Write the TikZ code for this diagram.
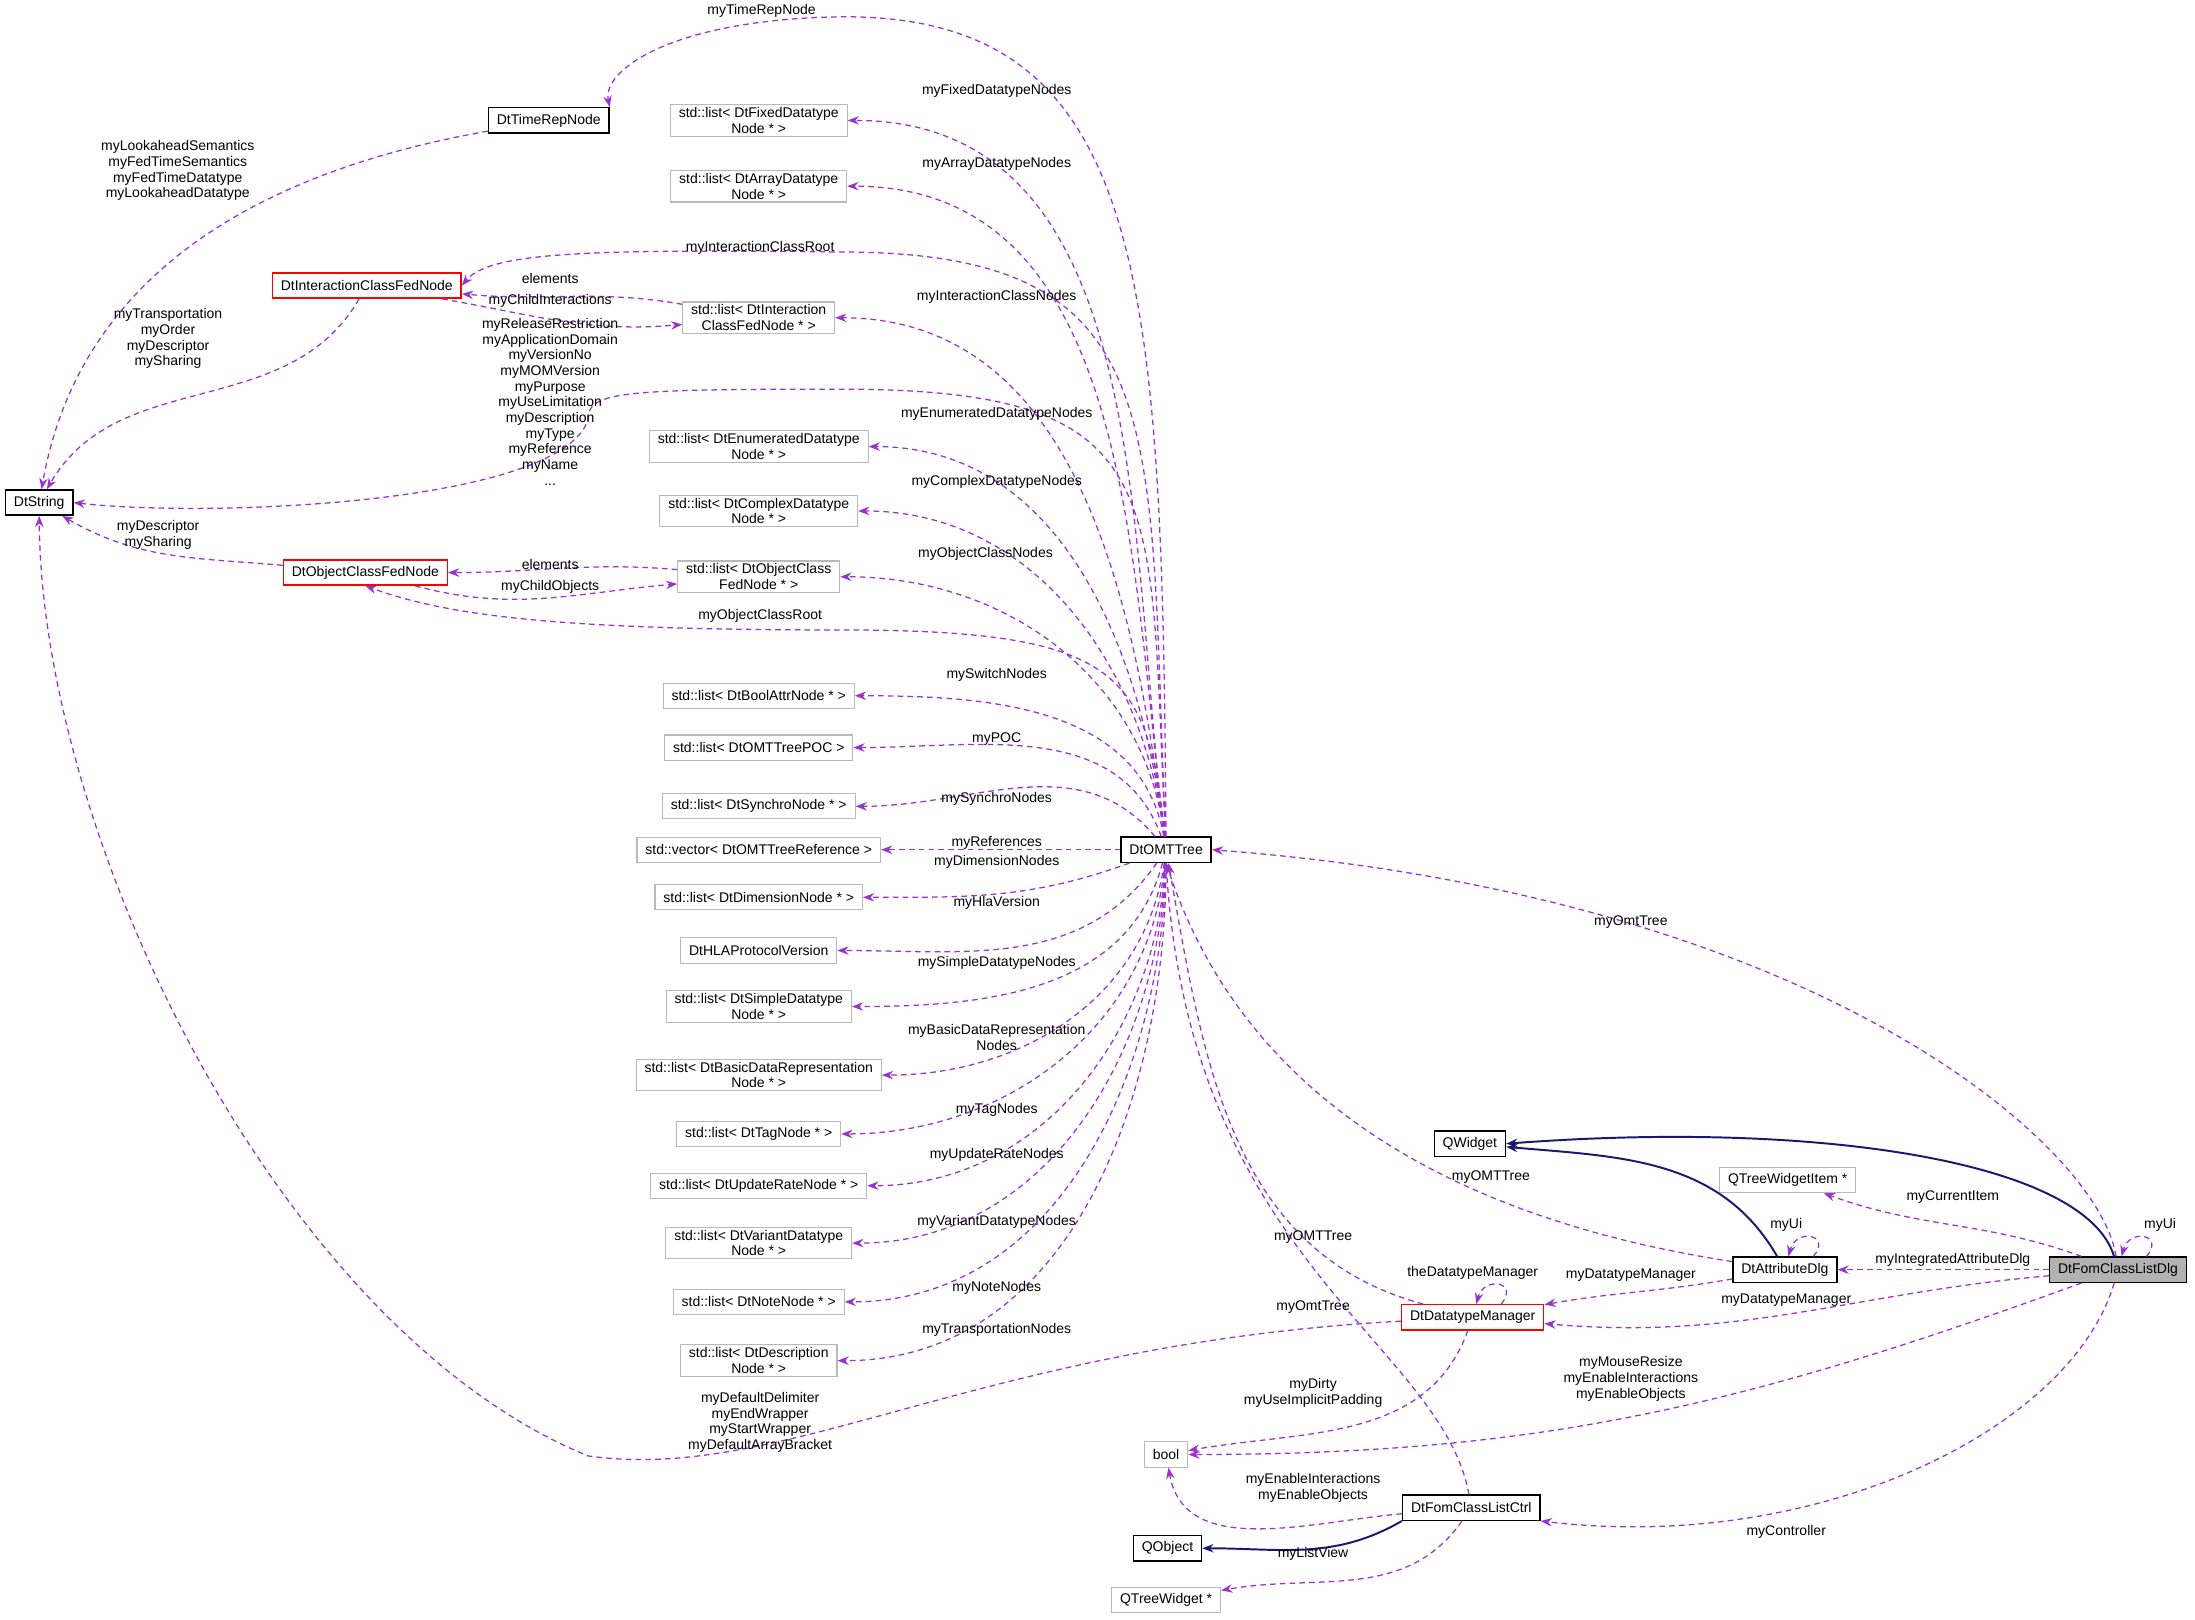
\documentclass[tikz,border=0pt]{standalone}
\usepackage{fontspec}
\setmainfont{Liberation Sans}
\usetikzlibrary{arrows.meta}
\definecolor{edgePurple}{RGB}{154,50,205}
\definecolor{edgeNavy}{RGB}{25,25,112}
\tikzstyle{block} = [rectangle, minimum height=9pt, inner xsep=3pt, inner ysep=1pt, align=center, font=\fontsize{5}{5.6}\selectfont]
\tikzstyle{cls} = [draw, block, line width=0.5pt]
\tikzstyle{ext} = [draw=gray!55, block, line width=0.4pt]
\tikzstyle{bad} = [draw=red, block, line width=0.5pt]
\tikzstyle{lbl} = [align=center, inner sep=0pt, font=\fontsize{5}{5.6}\selectfont]
\tikzstyle{use} = [-{Stealth[length=4pt,width=3pt]}, dash pattern=on 2pt off 1.5pt, color=edgePurple, line width=0.45pt]
\tikzstyle{inh} = [-{Stealth[length=4pt,width=3pt]}, color=edgeNavy, line width=0.7pt]

\begin{document}
\begin{tikzpicture}[x=0.5pt, y=0.5pt]
    \useasboundingbox (0,0) rectangle (1568,-1157);
    \node (omt) [cls] at (833,-607) {DtOMTTree};
    \node (trep) [cls] at (392,-86) {DtTimeRepNode};
    \node (str) [cls] at (28,-359) {DtString};
    \node (icn) [bad] at (262,-204) {DtInteractionClassFedNode};
    \node (ocn) [bad] at (261,-409) {DtObjectClassFedNode};
    \node (fixed) [ext] at (542,-86) {std::list\textless{} DtFixedDatatype\\Node * \textgreater};
    \node (array) [ext] at (542,-133) {std::list\textless{} DtArrayDatatype\\Node * \textgreater};
    \node (ilist) [ext] at (542,-227) {std::list\textless{} DtInteraction\\ClassFedNode * \textgreater};
    \node (enum) [ext] at (542,-319) {std::list\textless{} DtEnumeratedDatatype\\Node * \textgreater};
    \node (cplx) [ext] at (542,-365) {std::list\textless{} DtComplexDatatype\\Node * \textgreater};
    \node (olist) [ext] at (542,-412) {std::list\textless{} DtObjectClass\\FedNode * \textgreater};
    \node (bool list) [ext] at (542,-497) {std::list\textless{} DtBoolAttrNode * \textgreater};
    \node (poc) [ext] at (542,-534) {std::list\textless{} DtOMTTreePOC \textgreater};
    \node (sync) [ext] at (542,-576) {std::list\textless{} DtSynchroNode * \textgreater};
    \node (refs) [ext] at (542,-607) {std::vector\textless{} DtOMTTreeReference \textgreater};
    \node (dim) [ext] at (542,-641) {std::list\textless{} DtDimensionNode * \textgreater};
    \node (hla) [ext] at (542,-679) {DtHLAProtocolVersion};
    \node (simple) [ext] at (542,-719) {std::list\textless{} DtSimpleDatatype\\Node * \textgreater};
    \node (basic) [ext] at (542,-768) {std::list\textless{} DtBasicDataRepresentation\\Node * \textgreater};
    \node (tag) [ext] at (542,-810) {std::list\textless{} DtTagNode * \textgreater};
    \node (rate) [ext] at (542,-847) {std::list\textless{} DtUpdateRateNode * \textgreater};
    \node (variant) [ext] at (542,-888) {std::list\textless{} DtVariantDatatype\\Node * \textgreater};
    \node (note) [ext] at (542,-930) {std::list\textless{} DtNoteNode * \textgreater};
    \node (descr) [ext] at (542,-972) {std::list\textless{} DtDescription\\Node * \textgreater};
    \node (qwidget) [cls] at (1050,-817) {QWidget};
    \node (qtwi) [ext] at (1277,-843) {QTreeWidgetItem *};
    \node (attr) [cls] at (1275,-907) {DtAttributeDlg};
    \node (fcl) [cls, fill=gray!60] at (1513,-907) {DtFomClassListDlg};
    \node (dm) [bad] at (1052,-941) {DtDatatypeManager};
    \node (bool) [ext] at (833,-1039) {bool};
    \node (ctrl) [cls] at (1051,-1077) {DtFomClassListCtrl};
    \node (qobject) [cls] at (834,-1106) {QObject};
    \node (qtw) [ext] at (833,-1143) {QTreeWidget *};

    % Upper members of the OMT tree.
    \draw [use] (omt) .. controls (830,-200) and (820,-10) .. (600,-12) .. controls (480,-14) and (430,-50) .. (trep.north east);
    \draw [use] (trep) to[out=190,in=80] (str);
    \draw [use] (omt) to[out=97,in=0] (fixed);
    \draw [use] (omt) to[out=97,in=0] (array);
    \draw [use] (omt) .. controls (820,-300) and (840,-180) .. (600,-180) .. controls (420,-178) and (350,-180) .. (icn.east);
    \draw [use] (ilist) to[out=170,in=-5] (icn);
    \draw [use] (icn) to[out=-10,in=185] (ilist);
    \draw [use] (omt) to[out=97,in=0] (ilist);
    \draw [use] (icn) to[out=-120,in=60] (str);
    \draw [use] (omt) .. controls (820,-350) and (840,-278) .. (600,-278) .. controls (440,-278) and (420,-280) .. (420,-300) .. controls (400,-360) and (150,-370) .. (str.east);
    \draw [use] (omt) to[out=97,in=0] (enum);
    \draw [use] (omt) to[out=97,in=0] (cplx);
    \draw [use] (ocn) to[out=175,in=-30] (str);
    \draw [use] (olist) to[out=175,in=0] (ocn);
    \draw [use] (ocn) to[out=-15,in=185] (olist);
    \draw [use] (omt) to[out=97,in=0] (olist);
    \draw [use] (omt) .. controls (820,-480) and (800,-450) .. (600,-450) .. controls (400,-450) and (320,-440) .. (ocn.south);
    \draw [use] (omt) to[out=100,in=0] (bool list);
    \draw [use] (omt) to[out=110,in=0] (poc);
    \draw [use] (omt) to[out=130,in=0] (sync);
    \draw [use] (omt) -- (refs);
    \draw [use] (omt) to[out=200,in=0] (dim);
    \draw [use] (omt) to[out=235,in=0] (hla);
    \draw [use] (omt) to[out=255,in=0] (simple);
    \draw [use] (omt) to[out=262,in=0] (basic);
    \draw [use] (omt) to[out=265,in=0] (tag);
    \draw [use] (omt) to[out=267,in=0] (rate);
    \draw [use] (omt) to[out=268,in=0] (variant);
    \draw [use] (omt) to[out=269,in=0] (note);
    \draw [use] (omt) to[out=270,in=0] (descr);

    % Dialogs and helpers.
    \draw [use] (dm) .. controls (700,-960) and (560,-1060) .. (420,-1040) .. controls (200,-950) and (30,-600) .. (str.south);
    \draw [use] (fcl) .. controls (1500,-820) and (1300,-640) .. (omt.east);
    \draw [inh] (fcl) .. controls (1490,-830) and (1300,-800) .. (qwidget.east);
    \draw [inh] (attr) to[out=120,in=-5] (qwidget);
    \draw [use] (attr) .. controls (1100,-880) and (900,-820) .. (omt.south);
    \draw [use] (fcl) to[out=160,in=-20] (qtwi);
    \draw [use] (fcl) -- (attr);
    \draw [use] (attr.25) to[out=50,in=75,looseness=3] (attr.75);
    \draw [use] (fcl.25) to[out=50,in=75,looseness=3] (fcl.75);
    \draw [use] (dm.25) to[out=50,in=75,looseness=3] (dm.75);
    \draw [use] (attr) to[out=190,in=10] (dm);
    \draw [use] (fcl) to[out=185,in=-5] (dm);
    \draw [use] (dm) to[out=165,in=-80] (omt);
    \draw [use] (ctrl) .. controls (1030,-960) and (850,-900) .. (omt.south);
    \draw [use] (dm) to[out=-110,in=10] (bool);
    \draw [use] (fcl) to[out=200,in=0] (bool);
    \draw [use] (ctrl) to[out=185,in=-80] (bool);
    \draw [inh] (ctrl.south west) to[out=-150,in=0] (qobject);
    \draw [use] (fcl) .. controls (1480,-1020) and (1300,-1110) .. (ctrl.south east);
    \draw [use] (ctrl) to[out=-125,in=10] (qtw);

    % Labels.
    \node [lbl] at (544,-8) {myTimeRepNode};
    \node [lbl] at (127,-122) {myLookaheadSemantics\\myFedTimeSemantics\\myFedTimeDatatype\\myLookaheadDatatype};
    \node [lbl] at (712,-65) {myFixedDatatypeNodes};
    \node [lbl] at (712,-117) {myArrayDatatypeNodes};
    \node [lbl] at (543,-177) {myInteractionClassRoot};
    \node [lbl] at (393,-199) {elements};
    \node [lbl] at (393,-215) {myChildInteractions};
    \node [lbl] at (712,-212) {myInteractionClassNodes};
    \node [lbl] at (120,-242) {myTransportation\\myOrder\\myDescriptor\\mySharing};
    \node [lbl] at (393,-287) {myReleaseRestriction\\myApplicationDomain\\myVersionNo\\myMOMVersion\\myPurpose\\myUseLimitation\\myDescription\\myType\\myReference\\myName\\...};
    \node [lbl] at (712,-296) {myEnumeratedDatatypeNodes};
    \node [lbl] at (712,-344) {myComplexDatatypeNodes};
    \node [lbl] at (113,-382) {myDescriptor\\mySharing};
    \node [lbl] at (393,-403) {elements};
    \node [lbl] at (393,-419) {myChildObjects};
    \node [lbl] at (704,-396) {myObjectClassNodes};
    \node [lbl] at (543,-440) {myObjectClassRoot};
    \node [lbl] at (712,-482) {mySwitchNodes};
    \node [lbl] at (712,-528) {myPOC};
    \node [lbl] at (712,-571) {mySynchroNodes};
    \node [lbl] at (712,-602) {myReferences};
    \node [lbl] at (712,-616) {myDimensionNodes};
    \node [lbl] at (712,-645) {myHlaVersion};
    \node [lbl] at (712,-688) {mySimpleDatatypeNodes};
    \node [lbl] at (712,-741) {myBasicDataRepresentation\\Nodes};
    \node [lbl] at (712,-793) {myTagNodes};
    \node [lbl] at (712,-825) {myUpdateRateNodes};
    \node [lbl] at (712,-873) {myVariantDatatypeNodes};
    \node [lbl] at (712,-920) {myNoteNodes};
    \node [lbl] at (712,-950) {myTransportationNodes};
    \node [lbl] at (543,-1016) {myDefaultDelimiter\\myEndWrapper\\myStartWrapper\\myDefaultArrayBracket};
    \node [lbl] at (1165,-659) {myOmtTree};
    \node [lbl] at (1065,-841) {myOMTTree};
    \node [lbl] at (1395,-855) {myCurrentItem};
    \node [lbl] at (1276,-875) {myUi};
    \node [lbl] at (1543,-875) {myUi};
    \node [lbl] at (1395,-900) {myIntegratedAttributeDlg};
    \node [lbl] at (1165,-911) {myDatatypeManager};
    \node [lbl] at (1276,-929) {myDatatypeManager};
    \node [lbl] at (1052,-909) {theDatatypeManager};
    \node [lbl] at (938,-884) {myOMTTree};
    \node [lbl] at (938,-934) {myOmtTree};
    \node [lbl] at (938,-995) {myDirty\\myUseImplicitPadding};
    \node [lbl] at (1165,-985) {myMouseResize\\myEnableInteractions\\myEnableObjects};
    \node [lbl] at (938,-1063) {myEnableInteractions\\myEnableObjects};
    \node [lbl] at (1276,-1094) {myController};
    \node [lbl] at (938,-1110) {myListView};
\end{tikzpicture}
\end{document}
